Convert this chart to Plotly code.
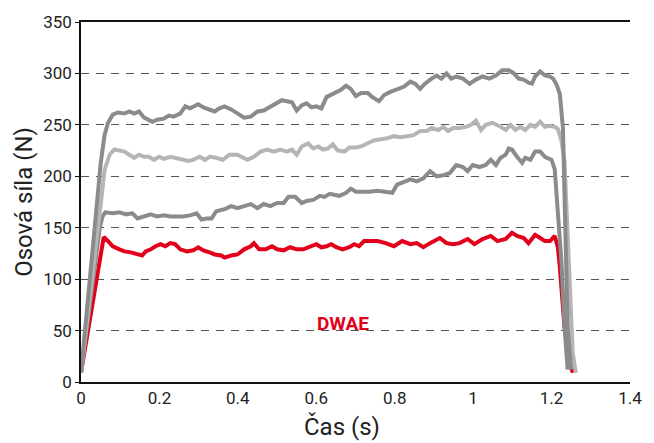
import plotly.graph_objects as go

# ---- data (time in s, axial force in N) ----
t_top = [0, 0.01, 0.02, 0.03, 0.04, 0.05, 0.06, 0.069, 0.081, 0.094, 0.111, 0.123, 0.136, 0.148, 0.161, 0.173,
         0.182, 0.194, 0.211, 0.224, 0.236, 0.253, 0.266, 0.278, 0.299, 0.312, 0.328, 0.341, 0.353, 0.366, 0.383,
         0.399, 0.416, 0.433, 0.450, 0.466, 0.483, 0.500, 0.512, 0.525, 0.538, 0.550, 0.563, 0.575, 0.588, 0.600,
         0.613, 0.626, 0.638, 0.651, 0.663, 0.676, 0.688, 0.701, 0.714, 0.731, 0.743, 0.760, 0.773, 0.789, 0.806,
         0.823, 0.840, 0.852, 0.865, 0.877, 0.894, 0.907, 0.919, 0.932, 0.944, 0.957, 0.974, 0.991, 1.007, 1.024,
         1.041, 1.058, 1.074, 1.091, 1.104, 1.116, 1.129, 1.141, 1.150, 1.158, 1.171, 1.183, 1.196, 1.204, 1.213,
         1.221, 1.229, 1.233, 1.237, 1.241, 1.250]
f_top = [9, 45, 90, 130, 172, 212, 240, 252, 260, 262, 261, 263, 261, 263, 257, 255,
         253, 255, 256, 259, 258, 261, 268, 266, 270, 267, 265, 263, 266, 268, 265,
         261, 257, 258, 263, 264, 268, 272, 274, 273, 272, 264, 269, 271, 267, 268,
         266, 277, 279, 282, 284, 288, 285, 278, 281, 281, 277, 273, 279, 282, 285,
         287, 292, 290, 285, 290, 295, 298, 295, 300, 295, 297, 295, 290, 294, 297,
         295, 298, 303, 303, 300, 295, 294, 291, 290, 297, 302, 298, 297, 295, 289,
         280, 247, 183, 118, 53, 12]

t_light = [0, 0.01, 0.02, 0.03, 0.04, 0.05, 0.06, 0.073, 0.085, 0.098, 0.111, 0.123, 0.136, 0.148, 0.161, 0.173,
           0.186, 0.199, 0.211, 0.228, 0.240, 0.253, 0.274, 0.286, 0.303, 0.316, 0.328, 0.345, 0.362, 0.378,
           0.399, 0.424, 0.441, 0.458, 0.475, 0.491, 0.508, 0.525, 0.538, 0.550, 0.563, 0.579, 0.592, 0.605,
           0.617, 0.630, 0.642, 0.655, 0.672, 0.684, 0.701, 0.714, 0.731, 0.748, 0.764, 0.781, 0.798, 0.815,
           0.831, 0.848, 0.865, 0.882, 0.894, 0.911, 0.924, 0.936, 0.949, 0.965, 0.982, 0.995, 1.007, 1.020,
           1.032, 1.049, 1.066, 1.083, 1.095, 1.108, 1.120, 1.133, 1.146, 1.158, 1.171, 1.183, 1.196, 1.208,
           1.216, 1.225, 1.233, 1.241, 1.247, 1.254, 1.262]
f_light = [9, 40, 72, 103, 135, 172, 206, 221, 226, 225, 224, 221, 218, 221, 219, 219,
           216, 219, 217, 219, 218, 216, 215, 216, 219, 216, 219, 218, 216, 221,
           221, 216, 219, 224, 226, 224, 226, 224, 226, 221, 229, 232, 227, 229,
           226, 227, 231, 225, 224, 228, 228, 229, 232, 235, 236, 237, 239, 238,
           239, 240, 244, 244, 247, 245, 248, 244, 247, 247, 248, 250, 254, 245,
           250, 252, 249, 245, 250, 245, 248, 245, 250, 248, 253, 248, 249, 248,
           246, 235, 215, 151, 86, 28, 9]

t_mid = [0, 0.01, 0.02, 0.03, 0.04, 0.048, 0.055, 0.062, 0.081, 0.098, 0.115, 0.131, 0.144, 0.161, 0.178, 0.194,
         0.211, 0.228, 0.245, 0.261, 0.278, 0.295, 0.307, 0.320, 0.333, 0.345, 0.366, 0.383, 0.399, 0.416,
         0.433, 0.450, 0.466, 0.483, 0.500, 0.517, 0.529, 0.546, 0.563, 0.575, 0.592, 0.609, 0.621, 0.634,
         0.647, 0.659, 0.676, 0.688, 0.701, 0.718, 0.735, 0.756, 0.777, 0.794, 0.806, 0.823, 0.840, 0.856,
         0.873, 0.890, 0.907, 0.924, 0.940, 0.957, 0.974, 0.986, 0.999, 1.016, 1.032, 1.045, 1.058, 1.070,
         1.083, 1.091, 1.099, 1.112, 1.125, 1.133, 1.146, 1.158, 1.171, 1.183, 1.200, 1.208, 1.216, 1.225,
         1.233, 1.241]
f_mid = [9, 38, 67, 96, 125, 150, 161, 165, 164, 165, 163, 164, 159, 161, 163, 161,
         162, 161, 161, 161, 162, 164, 158, 159, 159, 166, 168, 171, 169, 171,
         173, 169, 173, 171, 174, 174, 180, 180, 174, 176, 177, 181, 180, 183,
         182, 181, 184, 188, 185, 185, 185, 186, 185, 184, 192, 194, 197, 195,
         198, 205, 200, 201, 203, 211, 209, 205, 211, 209, 211, 216, 211, 218,
         221, 227, 226, 219, 213, 218, 216, 224, 224, 219, 216, 207, 167, 118,
         54, 12]

t_dwae = [0, 0.01, 0.02, 0.03, 0.04, 0.05, 0.058, 0.069, 0.081, 0.098, 0.111, 0.127, 0.144, 0.156, 0.165, 0.178,
          0.190, 0.203, 0.215, 0.228, 0.240, 0.253, 0.270, 0.286, 0.299, 0.312, 0.328, 0.341, 0.358, 0.366,
          0.383, 0.399, 0.416, 0.433, 0.441, 0.454, 0.471, 0.487, 0.500, 0.517, 0.533, 0.550, 0.567, 0.584,
          0.600, 0.613, 0.626, 0.638, 0.651, 0.667, 0.684, 0.697, 0.709, 0.722, 0.735, 0.756, 0.777, 0.798,
          0.819, 0.840, 0.856, 0.873, 0.890, 0.915, 0.932, 0.949, 0.965, 0.986, 1.003, 1.024, 1.045, 1.062,
          1.083, 1.099, 1.112, 1.129, 1.141, 1.158, 1.171, 1.183, 1.196, 1.208, 1.216, 1.221, 1.233, 1.245,
          1.254]
f_dwae = [9, 32, 55, 78, 102, 125, 141, 137, 132, 129, 127, 126, 124, 123, 127, 129,
          132, 134, 132, 135, 134, 129, 127, 128, 131, 128, 126, 124, 123, 121,
          123, 124, 129, 132, 135, 129, 129, 132, 129, 128, 131, 129, 129, 132,
          134, 131, 132, 134, 131, 129, 131, 134, 132, 137, 137, 137, 135, 132,
          137, 134, 135, 131, 135, 140, 135, 134, 135, 139, 134, 139, 142, 137,
          139, 145, 142, 140, 135, 143, 140, 137, 137, 142, 131, 112, 53, 20,
          9]

x_ticks = [0, 0.2, 0.4, 0.6, 0.8, 1.0, 1.2, 1.4]
x_tick_labels = ["0", "0.2", "0.4", "0.6", "0.8", "1", "1.2", "1.4"]
y_ticks = [0, 50, 100, 150, 200, 250, 300, 350]

FONT = "Roboto"
RED = "#e2001a"

fig = go.Figure()
fig.add_trace(go.Scatter(x=t_dwae, y=f_dwae, mode="lines", line=dict(color=RED, width=4), name="DWAE"))
fig.add_trace(go.Scatter(x=t_mid, y=f_mid, mode="lines", line=dict(color="#8b8b8b", width=4)))
fig.add_trace(go.Scatter(x=t_light, y=f_light, mode="lines", line=dict(color="#b5b5b5", width=4)))
fig.add_trace(go.Scatter(x=t_top, y=f_top, mode="lines", line=dict(color="#8b8b8b", width=4)))

fig.update_layout(
    width=654, height=443, autosize=False,
    margin=dict(l=81, r=16, t=21, b=61),
    paper_bgcolor="white", plot_bgcolor="white",
    showlegend=False,
    font=dict(family=FONT, color="#222222", size=17),
    xaxis=dict(range=[0, 1.4], tickvals=x_ticks, ticktext=x_tick_labels, showgrid=False, zeroline=False,
               showline=True, linecolor="#111111", linewidth=1.5, mirror=True, ticks="",
               tickfont=dict(family=FONT, size=17, color="#222222")),
    yaxis=dict(range=[0, 350], tickvals=y_ticks, showgrid=True, gridcolor="#555555", gridwidth=1,
               griddash="8px,7px", zeroline=False, showline=True, linecolor="#111111", linewidth=1.5,
               ticks="outside", ticklen=4, tickcolor="#111111",
               tickfont=dict(family=FONT, size=17, color="#222222")),
    annotations=[
        dict(text="DWAE", x=0.668, y=57, xref="x", yref="y", showarrow=False,
             font=dict(family=FONT, size=19, color=RED, weight="bold")),
        dict(text="Čas (s)", x=(346 - 81) / 557, y=(382 - 427) / 361, xref="paper", yref="paper",
             xanchor="center", yanchor="middle", showarrow=False,
             font=dict(family=FONT, size=24, color="#222222")),
        dict(text="Osová síla (N)", x=(23 - 81) / 557, y=0.5, xref="paper", yref="paper",
             xanchor="center", yanchor="middle", textangle=-90, showarrow=False,
             font=dict(family=FONT, size=24, color="#222222")),
    ],
)

fig.write_html("out.html", config={"displayModeBar": False},
               post_script="document.body.style.margin='0';document.body.style.padding='0';")
